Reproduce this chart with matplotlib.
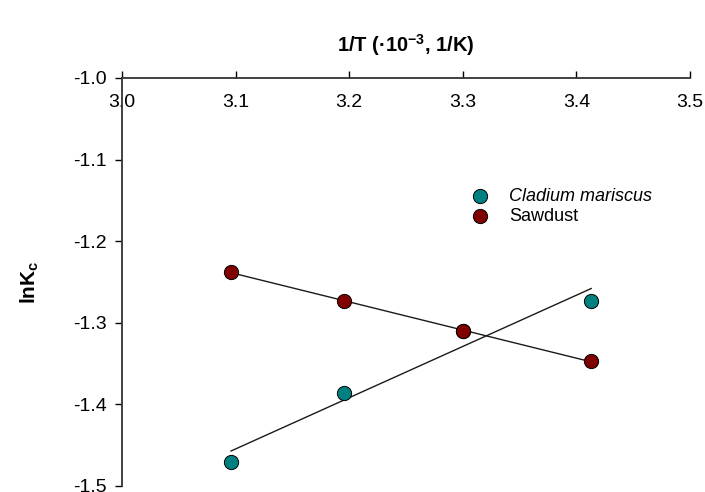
import matplotlib.pyplot as plt
import numpy as np

plt.rcParams.update(
    {
        "font.family": ["Liberation Sans", "DejaVu Sans"],
        "mathtext.fontset": "custom",
        "mathtext.rm": "Liberation Sans",
        "mathtext.it": "Liberation Sans:italic",
        "mathtext.bf": "Liberation Sans:bold",
    }
)

# 1/T (x 10^-3, 1/K) for 50, 40, 30, 20 C
inv_t = [3.096, 3.195, 3.300, 3.413]
# lnKc values (the 3.3 Cladium point sits behind the Sawdust marker)
ln_kc_cladium = [-1.470, -1.386, -1.310, -1.273]
ln_kc_sawdust = [-1.238, -1.273, -1.310, -1.347]

series = [
    ("Cladium mariscus", ln_kc_cladium, "#008080"),
    ("Sawdust", ln_kc_sawdust, "#800000"),
]

x_ticks = [3.0, 3.1, 3.2, 3.3, 3.4, 3.5]
y_ticks = [-1.0, -1.1, -1.2, -1.3, -1.4, -1.5]

fig = plt.figure(figsize=(7.05, 4.92), dpi=100)
ax = fig.add_axes([122 / 705, 1 - 486 / 492, 568 / 705, 408 / 492])

x = np.array(inv_t)
handles = []
for name, vals, color in series:
    y = np.array(vals)
    k, b = np.polyfit(x, y, 1)
    ax.plot([x.min(), x.max()], [k * x.min() + b, k * x.max() + b], color="#1a1a1a", lw=1.0, zorder=2)
for name, vals, color in series:
    h = ax.scatter(inv_t, vals, s=105, color=color, edgecolor="black", linewidth=0.7, zorder=3, label=name)
    handles.append(h)

ax.set_xlim(3.0, 3.5)
ax.set_ylim(-1.5, -1.0)
ax.set_xticks(x_ticks)
ax.set_xticklabels([f"{v:.1f}" for v in x_ticks])
ax.set_yticks(y_ticks)
ax.set_yticklabels([f"{v:.1f}" for v in y_ticks])

for side in ("right", "bottom"):
    ax.spines[side].set_visible(False)
for side in ("top", "left"):
    ax.spines[side].set_linewidth(1.3)
    ax.spines[side].set_color("#333333")

ax.xaxis.tick_top()
ax.tick_params(axis="x", direction="out", length=5, width=1.0, pad=-29, labelsize=14)
ax.tick_params(axis="y", direction="out", length=5, width=1.0, pad=6, labelsize=14)

ax.text(0.5, 1.081, "1/T (·10$^{\\mathbf{-3}}$, 1/K)", transform=ax.transAxes,
        ha="center", va="center", fontsize=14.5, fontweight="bold")
fig.text(30 / 705, 1 - 282 / 492, "lnK$_{\\mathbf{c}}$", rotation=90,
         ha="center", va="center", fontsize=15, fontweight="bold")

leg = ax.legend(handles=handles, loc="upper left", bbox_to_anchor=(0.57, 0.77),
                frameon=False, fontsize=13, handletextpad=0.6, labelspacing=0.15,
                scatterpoints=1)
leg.get_texts()[0].set_fontstyle("italic")

fig.savefig("out.png", dpi=100)
